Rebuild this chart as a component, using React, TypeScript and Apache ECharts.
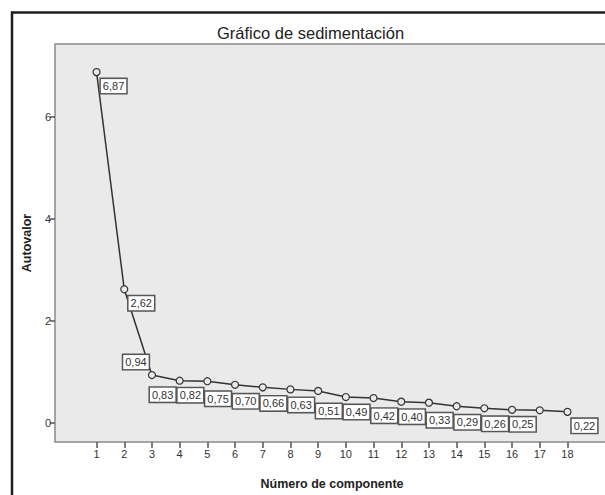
import React, { useEffect, useRef } from "react";
import * as echarts from "echarts";

const components = [1, 2, 3, 4, 5, 6, 7, 8, 9, 10, 11, 12, 13, 14, 15, 16, 17, 18];
const eigenvalues = [6.87, 2.62, 0.94, 0.83, 0.82, 0.75, 0.7, 0.66, 0.63, 0.51, 0.49, 0.42, 0.4, 0.33, 0.29, 0.26, 0.25, 0.22];
const yTicks = [0, 2, 4, 6];
const titleText = "Gráfico de sedimentación";
const xName = "Número de componente";
const yName = "Autovalor";

const FONT = "'Liberation Sans', Arial, sans-serif";

function labelOffset(i: number): [number, number] {
  if (i === 2) return [-16, -13];
  if (i <= 1 || i === eigenvalues.length - 1) return [17, 14];
  return [-17, 14];
}

export default function App() {
  const ref = useRef<HTMLDivElement>(null);
  useEffect(() => {
    document.body.style.margin = "0";
    document.body.style.overflow = "hidden";
    if (!ref.current) return;
    const chart = echarts.init(ref.current, null, { renderer: "svg" });
    const data = components.map((c, i) => ({
      value: [c, eigenvalues[i]],
      label: { offset: labelOffset(i) },
    }));
    chart.setOption({
      animation: false,
      backgroundColor: "#ffffff",
      title: {
        text: titleText,
        left: 217,
        top: 24,
        padding: 0,
        textStyle: { fontFamily: FONT, fontSize: 16.5, fontWeight: "normal", color: "#222" },
      },
      graphic: [
        {
          type: "rect",
          shape: { x: 12, y: 12.5, width: 640, height: 520 },
          style: { fill: "none", stroke: "#1e1e1e", lineWidth: 2.5 },
          silent: true,
        },
      ],
      grid: {
        left: 55,
        top: 44,
        right: -4,
        bottom: 53,
        outerBoundsMode: "none",
        containLabel: false,
        show: true,
        backgroundColor: "#eaeaea",
        borderColor: "#8a8a8a",
        borderWidth: 1.5,
      },
      xAxis: {
        type: "value",
        min: -0.5,
        max: 19.5,
        name: xName,
        nameLocation: "middle",
        nameGap: 35,
        nameTextStyle: { fontFamily: FONT, fontSize: 12.5, fontWeight: "bold", color: "#222" },
        axisLine: { show: false, onZero: false },
        splitLine: { show: false },
        axisTick: { show: true, length: 6, customValues: components, lineStyle: { color: "#555", width: 1.5 } },
        axisLabel: { customValues: components, fontFamily: FONT, fontSize: 11, color: "#333", margin: 6 },
      },
      yAxis: {
        type: "value",
        min: -0.37,
        max: 7.42,
        name: yName,
        nameLocation: "middle",
        nameGap: 22,
        nameTextStyle: { fontFamily: FONT, fontSize: 12.5, fontWeight: "bold", color: "#222" },
        axisLine: { show: false, onZero: false },
        splitLine: { show: false },
        axisTick: { show: true, length: 5, customValues: yTicks, lineStyle: { color: "#555", width: 1.5 } },
        axisLabel: { customValues: yTicks, fontFamily: FONT, fontSize: 11, color: "#333", margin: 4 },
      },
      series: [
        {
          type: "line",
          data,
          symbol: "circle",
          symbolSize: 7,
          lineStyle: { color: "#333", width: 1.5 },
          itemStyle: { color: "#eaeaea", borderColor: "#333", borderWidth: 1.2 },
          label: {
            show: true,
            position: "inside",
            formatter: (p: any) => p.value[1].toFixed(2).replace(".", ","),
            fontFamily: FONT,
            fontSize: 11,
            color: "#333",
            backgroundColor: "#ffffff",
            borderColor: "#555",
            borderWidth: 1.5,
            padding: [2, 2, 1, 2],
          },
          z: 3,
        },
      ],
    });
    return () => chart.dispose();
  }, []);
  return <div ref={ref} style={{ width: 605, height: 495 }} />;
}
